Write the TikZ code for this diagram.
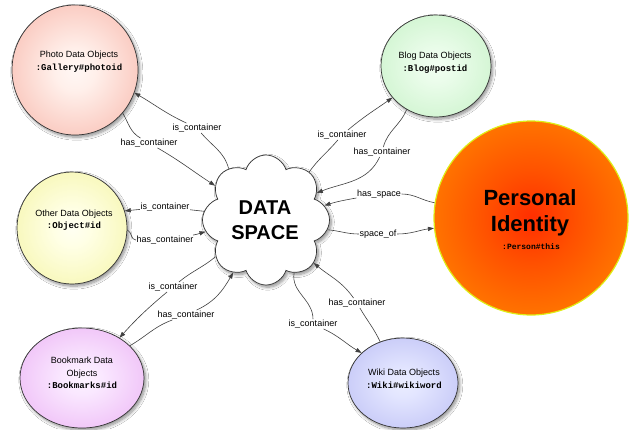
\documentclass[tikz,border=0pt]{standalone}
\usepackage{fontspec}
\setmainfont{Liberation Sans}
\setmonofont{Liberation Mono}
\usetikzlibrary{shapes.geometric,shapes.symbols,arrows.meta,shadows.blur}

% radial fills for the object circles
\pgfdeclareradialshading{photoshade}{\pgfpoint{0bp}{0bp}}{rgb(0bp)=(1,0.97,0.96); rgb(8bp)=(1,0.94,0.92); rgb(28bp)=(0.98,0.78,0.74); rgb(50bp)=(0.93,0.56,0.51)}
\pgfdeclareradialshading{blogshade}{\pgfpoint{0bp}{0bp}}{rgb(0bp)=(0.95,1,0.95); rgb(8bp)=(0.92,0.99,0.92); rgb(28bp)=(0.82,0.96,0.82); rgb(50bp)=(0.66,0.89,0.66)}
\pgfdeclareradialshading{othershade}{\pgfpoint{0bp}{0bp}}{rgb(0bp)=(1,1,0.95); rgb(8bp)=(1,1,0.9); rgb(28bp)=(0.97,0.97,0.72); rgb(50bp)=(0.9,0.9,0.5)}
\pgfdeclareradialshading{bookshade}{\pgfpoint{0bp}{0bp}}{rgb(0bp)=(0.99,0.95,1); rgb(8bp)=(0.98,0.91,1); rgb(28bp)=(0.94,0.76,0.97); rgb(50bp)=(0.87,0.56,0.9)}
\pgfdeclareradialshading{wikishade}{\pgfpoint{0bp}{0bp}}{rgb(0bp)=(0.92,0.93,1); rgb(8bp)=(0.89,0.9,1); rgb(28bp)=(0.78,0.79,0.97); rgb(50bp)=(0.6,0.62,0.9)}
\pgfdeclareradialshading{personshade}{\pgfpoint{0bp}{0bp}}{rgb(0bp)=(1,0.18,0); rgb(12bp)=(1,0.32,0); rgb(30bp)=(1,0.5,0); rgb(50bp)=(1,0.64,0)}

\definecolor{rimyellow}{RGB}{222,238,20}
\newcommand\idfont{\ttfamily\bfseries\fontsize{9}{10}\selectfont}

\begin{document}
\begin{tikzpicture}[x=1pt,y=-1pt,
  obj/.style={ellipse, draw=black!80, line width=0.7pt, inner sep=0pt,
    blur shadow={shadow xshift=1.8pt, shadow yshift=-2.2pt, shadow blur steps=8, shadow blur radius=3pt, shadow opacity=45}},
  txt/.style={align=center, font=\fontsize{9}{12.5}\selectfont, inner sep=0pt},
  lbl/.style={font=\fontsize{9}{10}\selectfont, inner sep=0.6pt},
  link/.style={draw=black!75, line width=0.6pt},
  arr/.style={link, -{Triangle[length=6pt,width=4.2pt]}},
]
\useasboundingbox (0,0) rectangle (629,429);
\fill[white] (0,0) rectangle (629,429);

% object circles
\node[obj, shading=photoshade, minimum width=126, minimum height=130] (photo) at (75,70) {};
\node[obj, shading=blogshade, minimum width=110, minimum height=102] (blog) at (436,66) {};
\node[obj, shading=othershade, minimum width=110, minimum height=112] (other) at (72,228) {};
\node[obj, shading=bookshade, minimum width=124, minimum height=100] (book) at (82,378) {};
\node[obj, shading=wikishade, minimum width=110, minimum height=90] (wiki) at (403,383) {};
\node[circle, minimum size=194, draw=rimyellow, line width=1.2pt, shading=personshade, inner sep=0pt] (person) at (531,218) {};

% central cloud
\node[cloud, cloud puffs=8, cloud puff arc=145, aspect=1, minimum width=127, minimum height=130,
      draw=black!80, line width=0.7pt, fill=white, inner sep=0pt,
      blur shadow={shadow xshift=1.8pt, shadow yshift=-2.2pt, shadow blur steps=8, shadow blur radius=3pt, shadow opacity=45}] (ds) at (266,220) {};

% texts
\node[txt] (photo-t) at (79,61.5) {Photo Data Objects\\{\idfont :Gallery\#photoid}};
\node[txt] (blog-t) at (435,62.5) {Blog Data Objects\\{\idfont :Blog\#postid}};
\node[txt] (other-t) at (74,220) {Other Data Objects\\{\idfont :Object\#id}};
\node[txt] (book-t) at (82,373) {Bookmark Data\\Objects\\{\idfont :Bookmarks\#id}};
\node[txt] (wiki-t) at (404,379) {Wiki Data Objects\\{\idfont :Wiki\#wikiword}};
\node[align=center, inner sep=0pt, font=\bfseries\fontsize{20}{25}\selectfont] (ds-t) at (265,220) {DATA\\SPACE};
\node[align=center, inner sep=0pt, font=\bfseries\fontsize{22}{26}\selectfont] (person-t) at (530,213) {Personal\\Identity};
\node[inner sep=0pt, font=\ttfamily\bfseries\fontsize{8}{9}\selectfont] (person-id) at (531,247) {:Person\#this};

% connector labels
\node[lbl] (l1) at (197,128) {is\_container};
\node[lbl] (l2) at (149,143) {has\_container};
\node[lbl] (l3) at (342,135) {is\_container};
\node[lbl] (l4) at (382,152) {has\_container};
\node[lbl] (l5) at (165,207) {is\_container};
\node[lbl] (l6) at (165,240) {has\_container};
\node[lbl] (l7) at (379,194) {has\_space};
\node[lbl] (l8) at (378,234) {space\_of};
\node[lbl] (l9) at (173,287) {is\_container};
\node[lbl] (l10) at (186,315) {has\_container};
\node[lbl] (l11) at (357,303) {has\_container};
\node[lbl] (l12) at (313,324) {is\_container};

% photo
\draw[link] (ds.126) to[out=105,in=-50] (l1);
\draw[arr] (l1) to[out=155,in=-30] (photo.-21);
\draw[link] (photo.-42) to[out=-60,in=150] (l2);
\draw[arr] (l2) to[out=-30,in=147] (ds.146);
% blog
\draw[link] (ds.48) to[out=55,in=-130] (l3);
\draw[arr] (l3) to[out=40,in=215] (blog.216);
\draw[link] (blog.236) to[out=-112,in=75] (l4);
\draw[arr] (l4) to[out=-115,in=22] (ds.28);
% other
\draw[link] (ds.172) -- (l5);
\draw[arr] (l5) -- (other.18);
\draw[link] (other.-2) to[out=-25,in=180] (l6);
\draw[arr] (l6) to[out=10,in=195] (ds.191);
% personal identity
\draw[link] (person.171) to[out=170,in=0] (l7);
\draw[arr] (l7) to[out=190,in=17] (ds.14);
\draw[link] (ds.-9) to[out=-5,in=180] (l8);
\draw[arr] (l8) to[out=0,in=187] (person.186);
% bookmark
\draw[link] (ds.216) to[out=220,in=40] (l9);
\draw[arr] (l9) to[out=220,in=48] (book.47);
\draw[link] (book.34) to[out=30,in=200] (l10);
\draw[arr] (l10) to[out=25,in=240] (ds.238);
% wiki
\draw[link] (wiki.119) to[out=115,in=-60] (l11);
\draw[arr] (l11) to[out=125,in=-40] (ds.-42);
\draw[link] (ds.-62) to[out=-100,in=90] (l12);
\draw[arr] (l12) to[out=-25,in=150] (wiki.144);
\end{tikzpicture}
\end{document}
